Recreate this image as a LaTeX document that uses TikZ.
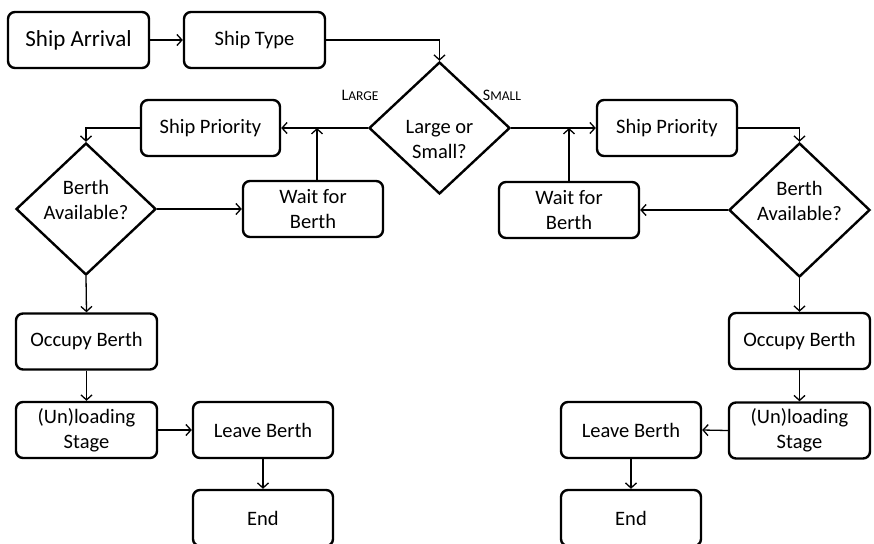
\documentclass[tikz,border=0pt]{standalone}
\usepackage{fontspec}
\setmainfont{Carlito}
\usetikzlibrary{arrows.meta,shapes.geometric}
\tikzset{
  box/.style={draw, line width=2.4pt, rounded corners=7pt, minimum width=140pt,
    minimum height=56pt, align=center, inner sep=0pt,
    font=\fontsize{20.5}{25}\selectfont},
  dia/.style={draw, diamond, line width=2.4pt, minimum width=141pt,
    minimum height=132pt, inner sep=0pt},
  dtext/.style={align=center, inner sep=0pt, font=\fontsize{20.5}{25}\selectfont},
  conn/.style={line width=1.3pt, -{Straight Barb[length=5pt,width=11pt,line width=1.3pt]}},
  lbl/.style={inner sep=0pt},
}
\newcommand{\myL}{{\fontsize{16}{16}\selectfont L}{\fontsize{13.5}{13.5}\selectfont ARGE}}
\newcommand{\myS}{{\fontsize{16}{16}\selectfont S}{\fontsize{13.5}{13.5}\selectfont MALL}}
\begin{document}
\begin{tikzpicture}[x=1pt,y=-1pt]
\useasboundingbox (0,0) rectangle (874,543);
\node[box, minimum width=141pt, font=\fontsize{23}{27}\selectfont] (arr) at (78.5,40) {Ship Arrival};
\node[box, minimum width=141pt] (type) at (254.5,40) {Ship Type};
\node[dia] (dec) at (439.5,128) {};
\node[dtext] (dect) at (439.5,139) {Large or\\Small?};
\node[box, minimum width=139pt] (spL) at (210.5,128) {Ship Priority};
\node[box] (spR) at (667,128) {Ship Priority};
\node[dia, minimum width=140pt] (bL) at (86,209) {};
\node[dtext] (bLt) at (86,200) {Berth\\Available?};
\node[dia, minimum height=134pt] (bR) at (799.5,210) {};
\node[dtext] (bRt) at (799.5,200.5) {Berth\\Available?};
\node[box] (wL) at (313,209) {Wait for\\Berth};
\node[box] (wR) at (569,210) {Wait for\\Berth};
\node[box, minimum width=141pt] (occL) at (86.5,341.5) {Occupy Berth};
\node[box, minimum width=141pt] (occR) at (799.5,341) {Occupy Berth};
\node[box, minimum width=141pt] (unL) at (86.5,430) {(Un)loading\\Stage};
\node[box, minimum width=141pt] (unR) at (799.5,430.5) {(Un)loading\\Stage};
\node[box] (lvL) at (263,430) {Leave Berth};
\node[box] (lvR) at (631,430) {Leave Berth};
\node[box] (endL) at (263,518) {End};
\node[box] (endR) at (631,518) {End};
\node[lbl] (large) at (360,95) {\myL};
\node[lbl] (small) at (502,95) {\myS};
\draw[conn] (arr.east) -- (type.west);
\draw[conn] (type.east) -| (dec.north);
\draw[conn] (dec.west) -- (spL.east);
\draw[conn] (dec.east) -- (spR.west);
\draw[conn] (spL.west) -| (bL.north);
\draw[conn] (spR.east) -| (bR.north);
\draw[conn] (bL.east) -- (wL.west);
\draw[conn] (bR.west) -- (wR.east);
\draw[conn] ([xshift=4pt]wL.north) -- ([xshift=4pt]wL.north |- spL.east);
\draw[conn] (wR.north) -- (wR.north |- spR.west);
\draw[conn] (bL.south) -- (occL.north);
\draw[conn] (bR.south) -- (occR.north);
\draw[conn] (occL.south) -- (unL.north);
\draw[conn] (occR.south) -- (unR.north);
\draw[conn] (unL.east) -- (lvL.west);
\draw[conn] (unR.west) -- (lvR.east);
\draw[conn] (lvL.south) -- (endL.north);
\draw[conn] (lvR.south) -- (endR.north);
\end{tikzpicture}
\end{document}
